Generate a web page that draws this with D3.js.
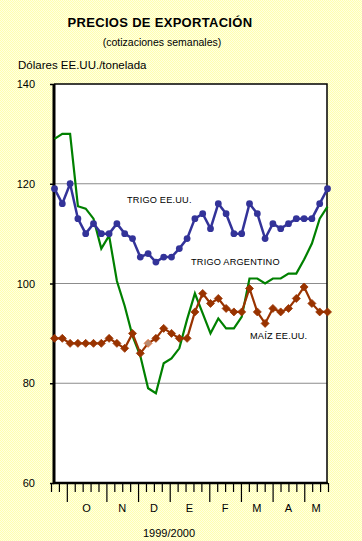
<!DOCTYPE html>
<html>
<head>
<meta charset="utf-8">
<script src="https://cdn.jsdelivr.net/npm/d3@7"></script>
<style>
  body { margin: 0; }
  svg { display: block; font-family: "Liberation Sans", Arial, sans-serif; }
</style>
</head>
<body>
<svg width="362" height="541"></svg>
<script>
// weekly quotes, Sep 1999 - May 2000 (36 weeks)
var trigoEEUU = [119, 116, 120, 113, 110, 112, 110, 110, 112, 110, 109, 105.3,
    106, 104.3, 105.3, 105.3, 107, 109, 113, 114, 111, 116, 114, 110,
    110, 116, 114, 109, 112, 111, 112, 113, 113, 113, 116, 119];
var trigoArg = [129, 130, 130, 115.5, 115, 113, 107, 109.6, 100.5, 95.5, 89.5, 85.5,
    79, 78, 84, 85, 87, 92.8, 98, 94, 90, 93, 91, 91,
    93.3, 101, 101, 100, 101, 101, 102, 102, 104.8, 108, 113, 115.4];
var maizEEUU = [89, 89, 88, 88, 88, 88, 88, 89, 88, 87, 90, 86,
    88, 89, 91, 90, 89, 89, 94.3, 98, 96, 97, 95, 94.3,
    94.3, 99, 94.3, 92, 95, 94.3, 95, 97, 99.3, 96, 94.3, 94.3];
var monthStarts = [2, 7, 11, 15, 20, 24, 28, 32];
var monthLabels = ["O", "N", "D", "E", "F", "M", "A", "M"];
var yTicks = [60, 80, 100, 120, 140];
var gridValues = [80, 100, 120];

var svg = d3.select("svg"),
    width = +svg.attr("width"),
    height = +svg.attr("height");

// dithered yellow background
var defs = svg.append("defs");
var pat = defs.append("pattern")
    .attr("id", "dither")
    .attr("width", 2).attr("height", 2)
    .attr("patternUnits", "userSpaceOnUse");
pat.append("rect").attr("width", 2).attr("height", 2).attr("fill", "#ffffe2");
pat.append("rect").attr("width", 1).attr("height", 1).attr("fill", "#ffffb0");
pat.append("rect").attr("x", 1).attr("y", 1).attr("width", 1).attr("height", 1).attr("fill", "#ffffb0");

svg.append("rect")
    .attr("width", width)
    .attr("height", height)
    .attr("fill", "url(#dither)");

var n = trigoEEUU.length;
var x = d3.scaleLinear().domain([0, n - 1]).range([54.5, 327.5]);
var xTick = d3.scaleLinear().domain([0, n - 1]).range([51, 328]);
var y = d3.scaleLinear().domain([60, 140]).range([483, 84]);

// plot area
svg.append("rect")
    .attr("x", 54).attr("y", y(140))
    .attr("width", 273).attr("height", y(60) - y(140))
    .attr("fill", "#fff");

svg.append("g")
    .selectAll("line")
    .data(gridValues)
    .enter().append("line")
    .attr("x1", 54).attr("x2", 327)
    .attr("y1", d => y(d)).attr("y2", d => y(d))
    .attr("stroke", "#8c8c8c")
    .attr("stroke-width", 1.2);

// top & right border
svg.append("path")
    .attr("d", "M54," + y(140) + "H327V" + y(60))
    .attr("fill", "none")
    .attr("stroke", "#000")
    .attr("stroke-width", 1.5);

// y axis
var yAxis = svg.append("g")
    .attr("transform", "translate(54,0)")
    .call(d3.axisLeft(y).tickValues(yTicks).tickSize(4).tickPadding(15));
yAxis.select(".domain").attr("stroke-width", 3).attr("d", "M0," + y(140) + "V" + (y(60) + 1));
yAxis.selectAll(".tick line").attr("stroke-width", 1.5);
yAxis.selectAll("text")
    .attr("font-size", 11)
    .attr("font-family", "Liberation Sans, Arial, sans-serif")
    .attr("fill", "#000");

// x axis (weekly ticks, longer at month starts)
var xAxis = svg.append("g")
    .attr("transform", "translate(0," + y(60) + ")")
    .call(d3.axisBottom(xTick).tickValues(d3.range(n)).tickSize(9).tickFormat(""));
xAxis.select(".domain").attr("stroke-width", 2.5).attr("d", "M53,0H328");
xAxis.selectAll(".tick line")
    .attr("stroke-width", 1.2)
    .attr("y2", d => monthStarts.indexOf(d) >= 0 ? 19 : 9);

svg.append("g")
    .selectAll("text")
    .data(monthLabels)
    .enter().append("text")
    .attr("x", (d, i) => xTick(((monthStarts[i]) + (i + 1 < monthStarts.length ? monthStarts[i + 1] : n - 1)) / 2))
    .attr("y", 512)
    .attr("text-anchor", "middle")
    .attr("font-size", 11)
    .text(d => d);

// series
var line = d3.line()
    .x((d, i) => x(i))
    .y(d => y(d));

svg.append("path")
    .datum(trigoArg)
    .attr("d", line)
    .attr("fill", "none")
    .attr("stroke", "#008000")
    .attr("stroke-width", 2.2);

svg.append("path")
    .datum(maizEEUU)
    .attr("d", line)
    .attr("fill", "none")
    .attr("stroke", "#993300")
    .attr("stroke-width", 2.2);

svg.append("g")
    .selectAll("path")
    .data(maizEEUU)
    .enter().append("path")
    .attr("transform", (d, i) => "translate(" + x(i) + "," + y(d) + ")")
    .attr("d", "M0,-4L4,0L0,4L-4,0Z")
    .attr("fill", (d, i) => i === 12 ? "#b88a70" : "#993300")
    .attr("stroke", (d, i) => i === 12 ? "#e2662a" : "#993300")
    .attr("stroke-width", 0.8);

svg.append("path")
    .datum(trigoEEUU)
    .attr("d", line)
    .attr("fill", "none")
    .attr("stroke", "#333399")
    .attr("stroke-width", 2.5);

svg.append("g")
    .selectAll("circle")
    .data(trigoEEUU)
    .enter().append("circle")
    .attr("cx", (d, i) => x(i))
    .attr("cy", d => y(d))
    .attr("r", 3.4)
    .attr("fill", "#333399");

// series labels
var labels = [
    {t: "TRIGO EE.UU.", x: 127, y: 203},
    {t: "TRIGO ARGENTINO", x: 191, y: 265},
    {t: "MAÍZ EE.UU.", x: 250, y: 339}
];
svg.append("g")
    .selectAll("text")
    .data(labels)
    .enter().append("text")
    .attr("x", d => d.x)
    .attr("y", d => d.y)
    .attr("font-size", 9.2)
    .attr("letter-spacing", 0.2)
    .text(d => d.t);

// titles
svg.append("text")
    .attr("x", 160).attr("y", 27)
    .attr("text-anchor", "middle")
    .attr("font-size", 13)
    .attr("font-weight", "bold")
    .attr("letter-spacing", 0.3)
    .text("PRECIOS DE EXPORTACIÓN");

svg.append("text")
    .attr("x", 162).attr("y", 46)
    .attr("text-anchor", "middle")
    .attr("font-size", 10.5)
    .text("(cotizaciones semanales)");

svg.append("text")
    .attr("x", 18).attr("y", 69)
    .attr("font-size", 11.5)
    .text("Dólares EE.UU./tonelada");

svg.append("text")
    .attr("x", 169).attr("y", 537)
    .attr("text-anchor", "middle")
    .attr("font-size", 11)
    .text("1999/2000");
</script>
</body>
</html>
